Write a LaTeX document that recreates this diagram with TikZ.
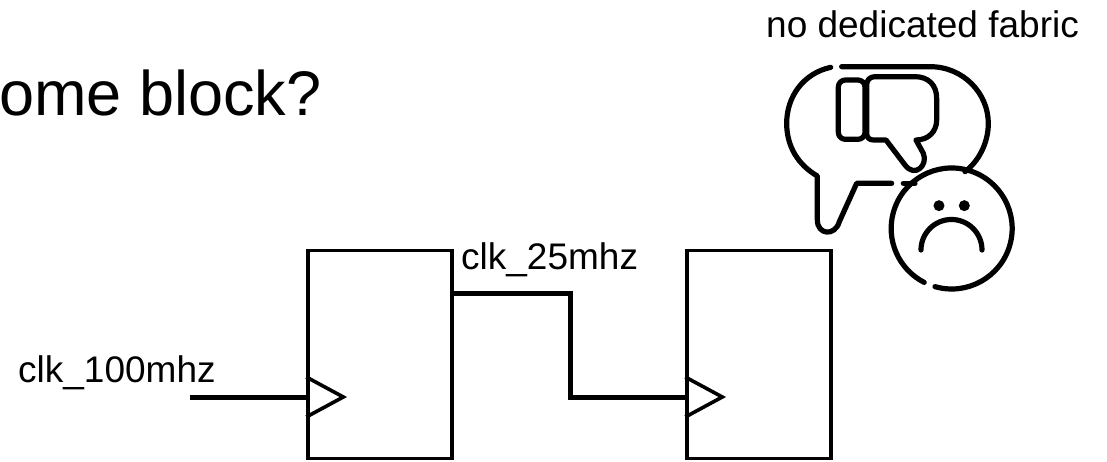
\documentclass[tikz,border=0pt]{standalone}
\usepackage{fontspec}
\setmainfont{Liberation Sans}
\usetikzlibrary{positioning}
\tikzset{
	x=1pt, % Un punto por cada pixel
	y=-1pt, % El eje y crece hacia abajo
	node distance=379pt, % Distancia entre bloques
	block/.style={draw, line width=3.4pt, minimum width=144pt, minimum height=208pt, inner sep=0pt}, % Bloques
	wire/.style={line width=5pt}, % Cables
	clock/.style={line width=3.6pt, line join=miter}, % Triangulo del reloj
	icon/.style={line width=5.2pt, line cap=round, line join=round}, % Dibujos
	label/.style={anchor=base west, inner sep=0pt, font=\fontsize{37}{39}\selectfont} % Textos
}

\begin{document}
\begin{tikzpicture}
	\useasboundingbox (0,0) rectangle (1107,461);
	\node[label, font=\fontsize{63}{65}\selectfont] (title) at (-1,115) {ome block?};
	\node[label] (fabric) at (766,37) {no dedicated fabric};

	\node[block] (ffa) at (380,354.5) {};
	\node[block, right of=ffa] (ffb) {};
	\node[label] (slow) at (461,269) {clk\_25mhz};
	\node[label] (fast) at (18,382) {clk\_100mhz};

	\coordinate (clkin) at (190,397);
	\coordinate (ffaclk) at (ffa.west |- clkin);
	\coordinate (ffbclk) at (ffb.west |- clkin);
	\coordinate (ffaout) at (ffa.east |- 0,293);
	\coordinate (turna) at (570,293);
	\coordinate (turnb) at (570,397);

	\draw[clock] (ffaclk) ++(0,-20) -- ++(37,20) -- ++(-37,20);
	\draw[clock] (ffbclk) ++(0,-20) -- ++(37,20) -- ++(-37,20);
	\draw[wire] (clkin) -- (ffaclk);
	\draw[wire] (ffaout) -- (turna) -- (turnb) -- (ffbclk);

	\begin{scope}[shift={(760,50)}, x=0.3333pt, y=-0.3333pt, icon]
		% Globo
		\draw (212,52) .. controls (130,70) and (80,140) .. (80,220)
			.. controls (80,290) and (115,345) .. (172,378) -- (172,510)
			.. controls (172,555) and (225,560) .. (238,515) -- (290,400) -- (395,400);
		\draw (430,400) -- (465,400);
		\draw (245,50) -- (510,50) .. controls (610,50) and (685,130) .. (685,220)
			.. controls (685,280) and (655,335) .. (615,365);
		% Pulgar
		\draw[rounded corners=7pt] (235,90) rectangle (315,268);
		\draw (320,105) .. controls (320,90) and (330,80) .. (345,80) -- (465,80)
			.. controls (505,80) and (530,105) .. (530,145) -- (530,210)
			.. controls (530,245) and (505,270) .. (468,270)
			-- (490,310) .. controls (505,345) and (465,385) .. (435,345)
			-- (378,270) -- (340,270) .. controls (328,270) and (320,262) .. (320,250) -- cycle;
		% Cara
		\draw (525,710) arc[start angle=-106, end angle=243, radius=60.5pt];
		\fill (537,467) circle[radius=5.5pt];
		\fill (613,467) circle[radius=5.5pt];
		\draw (483,600) arc[start angle=180, end angle=0, radius=30.5pt];
	\end{scope}
\end{tikzpicture}
\end{document}
